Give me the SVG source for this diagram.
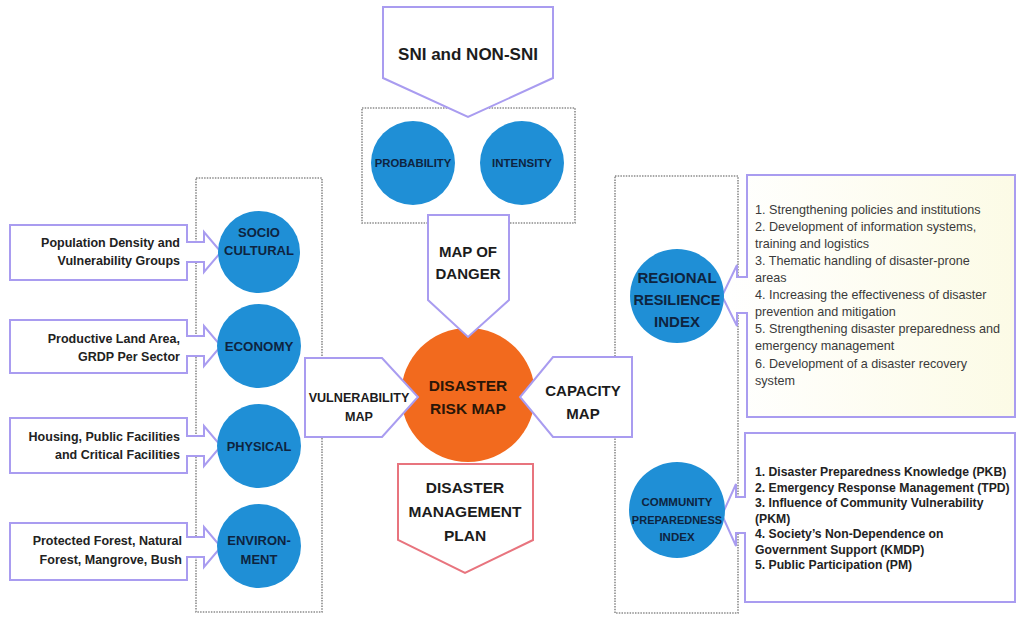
<svg xmlns="http://www.w3.org/2000/svg" width="1017" height="618" viewBox="0 0 1017 618">
<defs>
<style>
.dot{fill:none;stroke:#8c8c8c;stroke-width:1.6;stroke-dasharray:1.5 1.2}
.lav{fill:#fff;stroke:#a99cf0;stroke-width:2}
.pink{fill:#fff;stroke:#e8747e;stroke-width:2}
.blue{fill:#1f8fd6}
.orange{fill:#f26a1e}
.t{font-family:"Liberation Sans",Arial,sans-serif;font-weight:bold;fill:#1c1c1c;text-anchor:middle}
.ot{font-family:"Liberation Sans",Arial,sans-serif;font-weight:bold;fill:#2a1608;text-anchor:middle;font-size:15.5px}
.ct{font-family:"Liberation Sans",Arial,sans-serif;font-weight:bold;fill:#0e2440;text-anchor:middle}
.lt{font-family:"Liberation Sans",Arial,sans-serif;font-weight:bold;fill:#222;font-size:12.5px;text-anchor:end}
.rt{font-family:"Liberation Sans",Arial,sans-serif;fill:#3a3a3a;font-size:12.6px}
.rb{font-family:"Liberation Sans",Arial,sans-serif;font-weight:bold;fill:#222;font-size:12.2px}
</style>
<linearGradient id="cream" x1="0" y1="0" x2="1" y2="0">
<stop offset="0" stop-color="#ffffff"/>
<stop offset="1" stop-color="#fcfbe6"/>
</linearGradient>
</defs>
<rect width="1017" height="618" fill="#fff"/>

<g id="frames">
<rect class="dot" x="362" y="108" width="213" height="115"/>
<rect class="dot" x="196" y="178" width="126" height="434"/>
<rect class="dot" x="615" y="176" width="123" height="437"/>
</g>

<g id="connectors">
<path id="c-pop" class="lav" d="M10,225 H187 V242 H204 V232 L221,252 L204,272 V262 H187 V280 H10 Z"/>
<path id="c-eco" class="lav" d="M10,320 H187 V336 H204 V326 L221,346 L204,366 V356 H187 V373 H10 Z"/>
<path id="c-phy" class="lav" d="M10,418 H187 V436 H204 V426 L221,446 L204,466 V456 H187 V473 H10 Z"/>
<path id="c-env" class="lav" d="M10,523 H187 V537 H204 V527 L221,547 L204,567 V557 H187 V580 H10 Z"/>
<path id="c-rri" d="M747,175 H1015 V417 H747 V313 H737 V326 L722,296 L737,265 V277 H747 Z" fill="url(#cream)" stroke="#a99cf0" stroke-width="2"/>
<path id="c-cpi" class="lav" d="M745,433 H1015 V602 H745 V533 H736 V546 L722,515 L736,484 V497 H745 Z"/>
</g>

<g id="disaster-risk-map">
<circle class="orange" cx="468" cy="395" r="67"/>
<text class="ot" x="468" y="391">DISASTER</text>
<text class="ot" x="468" y="414">RISK MAP</text>
</g>

<g id="sni">
<path class="lav" d="M383,7 H553 V78 L468,117 L383,78 Z"/>
<text class="t" x="468" y="60" font-size="17">SNI and NON-SNI</text>
</g>

<g id="probability">
<circle class="blue" cx="413" cy="163" r="42"/>
<text class="ct" x="413" y="167" font-size="11.3">PROBABILITY</text>
</g>
<g id="intensity">
<circle class="blue" cx="522" cy="163" r="42"/>
<text class="ct" x="522" y="167" font-size="11.5">INTENSITY</text>
</g>

<g id="map-of-danger">
<path class="lav" d="M428,215 H509 V300 L468,337 L428,300 Z"/>
<text class="t" x="468" y="257" font-size="15">MAP OF</text>
<text class="t" x="468" y="279" font-size="15">DANGER</text>
</g>

<g id="vulnerability-map">
<path class="lav" d="M305,358 H382 L418,397 L382,437 H305 Z"/>
<text class="t" x="359" y="402" font-size="12.6">VULNERABILITY</text>
<text class="t" x="359" y="421" font-size="12.6">MAP</text>
</g>

<g id="capacity-map">
<path class="lav" d="M632,357 V437 H553 L520,397 L553,357 Z"/>
<text class="t" x="583" y="396" font-size="15">CAPACITY</text>
<text class="t" x="583" y="419" font-size="15">MAP</text>
</g>

<g id="disaster-management-plan">
<path class="pink" d="M398,464 H533 V540 L465,573 L398,540 Z"/>
<text class="t" x="465" y="493" font-size="15.5">DISASTER</text>
<text class="t" x="465" y="517" font-size="15.5">MANAGEMENT</text>
<text class="t" x="465" y="541" font-size="15.5">PLAN</text>
</g>

<g id="socio-cultural">
<circle class="blue" cx="259" cy="252" r="41"/>
<text class="ct" x="259" y="237" font-size="13">SOCIO</text>
<text class="ct" x="259" y="255" font-size="13">CULTURAL</text>
</g>
<g id="economy">
<circle class="blue" cx="259" cy="346" r="42"/>
<text class="ct" x="259" y="351" font-size="13.3">ECONOMY</text>
</g>
<g id="physical">
<circle class="blue" cx="259" cy="446" r="42"/>
<text class="ct" x="259" y="451" font-size="12.8">PHYSICAL</text>
</g>
<g id="environment">
<circle class="blue" cx="259" cy="546" r="42"/>
<text class="ct" x="259" y="545" font-size="13">ENVIRON-</text>
<text class="ct" x="259" y="564" font-size="13">MENT</text>
</g>

<g id="population-box">
<text class="lt" x="180" y="247">Population Density and</text>
<text class="lt" x="180" y="265">Vulnerability Groups</text>
</g>
<g id="land-box">
<text class="lt" x="180" y="343">Productive Land Area,</text>
<text class="lt" x="180" y="361">GRDP Per Sector</text>
</g>
<g id="housing-box">
<text class="lt" x="180" y="441">Housing, Public Facilities</text>
<text class="lt" x="180" y="459">and Critical Facilities</text>
</g>
<g id="forest-box">
<text class="lt" x="182" y="545">Protected Forest, Natural</text>
<text class="lt" x="182" y="564">Forest, Mangrove, Bush</text>
</g>

<g id="regional-resilience-index">
<circle class="blue" cx="677" cy="296" r="47"/>
<text class="ct" x="677" y="283" font-size="15">REGIONAL</text>
<text class="ct" x="677" y="305" font-size="14.5">RESILIENCE</text>
<text class="ct" x="677" y="327" font-size="15">INDEX</text>
</g>
<g id="community-preparedness-index">
<circle class="blue" cx="677" cy="510" r="48"/>
<text class="ct" x="677" y="506" font-size="11.5">COMMUNITY</text>
<text class="ct" x="677" y="524" font-size="11">PREPAREDNESS</text>
<text class="ct" x="677" y="541" font-size="11.5">INDEX</text>
</g>

<g id="resilience-list">
<text class="rt" x="755" y="214">1. Strengthening policies and institutions</text>
<text class="rt" x="755" y="231">2. Development of information systems,</text>
<text class="rt" x="755" y="248">training and logistics</text>
<text class="rt" x="755" y="265">3. Thematic handling of disaster-prone</text>
<text class="rt" x="755" y="282">areas</text>
<text class="rt" x="755" y="299">4. Increasing the effectiveness of disaster</text>
<text class="rt" x="755" y="316">prevention and mitigation</text>
<text class="rt" x="755" y="333">5. Strengthening disaster preparedness and</text>
<text class="rt" x="755" y="350">emergency management</text>
<text class="rt" x="755" y="368">6. Development of a disaster recovery</text>
<text class="rt" x="755" y="385">system</text>
</g>

<g id="preparedness-list">
<text class="rb" x="755" y="476">1. Disaster Preparedness Knowledge (PKB)</text>
<text class="rb" x="755" y="492">2. Emergency Response Management (TPD)</text>
<text class="rb" x="755" y="507">3. Influence of Community Vulnerability</text>
<text class="rb" x="755" y="523">(PKM)</text>
<text class="rb" x="755" y="538">4. Society’s Non-Dependence on</text>
<text class="rb" x="755" y="554">Government Support (KMDP)</text>
<text class="rb" x="755" y="569">5. Public Participation (PM)</text>
</g>
</svg>
